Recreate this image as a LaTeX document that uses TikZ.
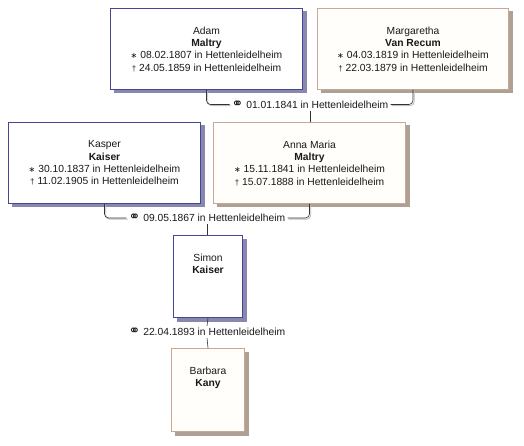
\documentclass[tikz,border=0pt]{standalone}
\usepackage{fontspec}
\setmainfont{Liberation Sans}
\newfontfamily\symf{DejaVu Sans}
\usetikzlibrary{backgrounds}
\definecolor{bluebd}{RGB}{70,70,150}
\definecolor{blueshd}{RGB}{135,135,175}
\definecolor{tanbd}{RGB}{200,168,148}
\definecolor{tanshd}{RGB}{175,160,150}
\definecolor{txt}{RGB}{25,25,25}
\definecolor{tanfill}{RGB}{255,254,250}
\newcommand\bornsym{{\symf\fontsize{8}{8}\selectfont ∗}}
\newcommand\diedsym{{\fontsize{8}{8}\selectfont †}}
\newcommand\marsym{{\symf\fontsize{14}{14}\selectfont ⚭}}
\newcommand\boxshadow[2]{\fill[#2] ([xshift=3.5pt,yshift=-3.5pt]#1.south west) rectangle ([xshift=3.5pt,yshift=-3.5pt]#1.north east);}
\tikzset{
  person/.style={draw, line width=1pt, anchor=north west, inner sep=0pt},
  male/.style={person, draw=bluebd, fill=white},
  female/.style={person, draw=tanbd, fill=tanfill},
  ptext/.style={align=center, inner sep=0pt, anchor=north, text=txt,
    font=\fontsize{10.3}{12.4}\selectfont},
  mtext/.style={fill=white, inner xsep=2pt, inner ysep=2pt, text=txt,
    font=\fontsize{10.3}{12.4}\selectfont},
  conn/.style={draw=black!80, line width=0.6pt, rounded corners=4pt},
  connshd/.style={draw=black!25, line width=0.9pt, rounded corners=4pt}
}
\begin{document}
\begin{tikzpicture}[x=1pt, y=-1pt]
\useasboundingbox (0,0) rectangle (524,446);
% boxes
\node[male, minimum width=192pt, minimum height=81pt] (adam) at (110,8) {};
\node[female, minimum width=191pt, minimum height=81pt] (marg) at (317,8) {};
\node[male, minimum width=192pt, minimum height=81pt] (kasper) at (8,122) {};
\node[female, minimum width=192pt, minimum height=81pt] (anna) at (213,122) {};
\node[male, minimum width=69pt, minimum height=82pt] (simon) at (173,235) {};
\node[female, minimum width=73pt, minimum height=83pt] (barbara) at (171,348) {};
\begin{scope}[on background layer]
\boxshadow{adam}{blueshd}
\boxshadow{marg}{tanshd}
\boxshadow{kasper}{blueshd}
\boxshadow{anna}{tanshd}
\boxshadow{simon}{blueshd}
\boxshadow{barbara}{tanshd}
\end{scope}
% texts
\node[ptext] (adamT) at ([yshift=-18.5pt]adam.north) {Adam\\\textbf{Maltry}\\\bornsym\ 08.02.1807 in Hettenleidelheim\\\diedsym\ 24.05.1859 in Hettenleidelheim};
\node[ptext] (margT) at ([yshift=-18.5pt]marg.north) {Margaretha\\\textbf{Van Recum}\\\bornsym\ 04.03.1819 in Hettenleidelheim\\\diedsym\ 22.03.1879 in Hettenleidelheim};
\node[ptext] (kasperT) at ([yshift=-18.5pt]kasper.north) {Kasper\\\textbf{Kaiser}\\\bornsym\ 30.10.1837 in Hettenleidelheim\\\diedsym\ 11.02.1905 in Hettenleidelheim};
\node[ptext] (annaT) at ([yshift=-18.5pt]anna.north) {Anna Maria\\\textbf{Maltry}\\\bornsym\ 15.11.1841 in Hettenleidelheim\\\diedsym\ 15.07.1888 in Hettenleidelheim};
\node[ptext] (simonT) at ([yshift=-18.5pt]simon.north) {Simon\\\textbf{Kaiser}};
\node[ptext] (barbaraT) at ([yshift=-18.5pt]barbara.north) {Barbara\\\textbf{Kany}};
% marriages
\node[mtext] (m1) at (310,104.5) {\marsym\ 01.01.1841 in Hettenleidelheim};
\node[mtext] (m2) at (207,218) {\marsym\ 09.05.1867 in Hettenleidelheim};
\node[mtext] (m3) at (207,332) {\marsym\ 22.04.1893 in Hettenleidelheim};
% connectors (shadow, then line)
\foreach \a/\b in {adam/m1.west, marg/m1.east, kasper/m2.west, anna/m2.east} {
  \draw[connshd, transform canvas={xshift=1.2pt, yshift=-1.2pt}] (\a.south) |- (\b);
  \draw[conn] (\a.south) |- (\b);
}
\draw[conn] (m1.south) -- (m1.south |- anna.north);
\draw[conn] (m2.south) -- (m2.south |- simon.north);
\draw[conn] (simon.south) -- (m3.north);
\draw[conn] (m3.south) -- (barbara.north);
\end{tikzpicture}
\end{document}
